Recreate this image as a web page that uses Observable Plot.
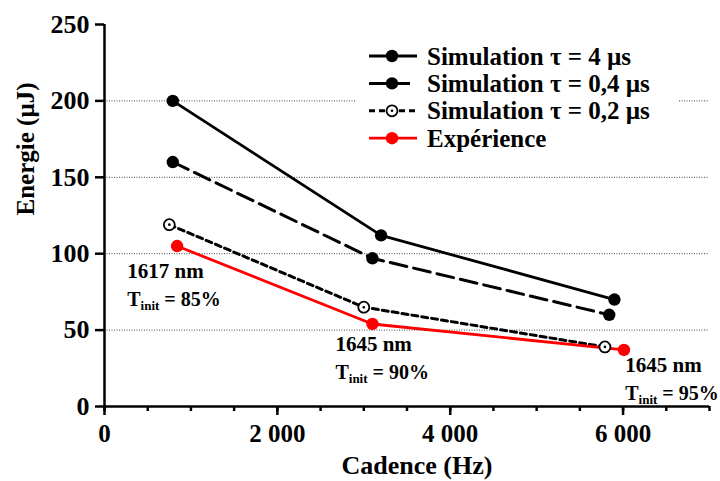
<!DOCTYPE html>
<html><head><meta charset="utf-8">
<script src="https://cdn.jsdelivr.net/npm/d3@7"></script>
<script src="https://cdn.jsdelivr.net/npm/@observablehq/plot@0.6"></script>
<style>html,body{margin:0;padding:0;background:#fff} svg{display:block}</style>
</head><body><div id="chart"></div>
<script>
// ---- data ----
const seriesNames = ["Simulation τ = 4 µs", "Simulation τ = 0,4 µs", "Simulation τ = 0,2 µs", "Expérience"];
const sim4X  = [790, 3200, 5900];
const sim4Y  = [200, 112, 70];
const sim04X = [790, 3100, 5840];
const sim04Y = [160, 97, 60];
const sim02X = [750, 3000, 5790];
const sim02Y = [119, 65, 39];
const expX   = [840, 3100, 6010];
const expY   = [105, 54, 37];

const annWave  = ["1617 nm", "1645 nm", "1645 nm"];
const annTinit = ["85%", "90%", "95%"];
const annX = [263, 2672, 6025];
const annY = [84, 36, 22.5];

const xTicksMajor = [0, 2000, 4000, 6000];
const xTickLabels = ["0", "2 000", "4 000", "6 000"];
const xTicksMinor = [0, 500, 1000, 1500, 2000, 2500, 3000, 3500, 4000, 4500, 5000, 5500, 6000, 6500, 7000];
const yTicks = [0, 50, 100, 150, 200, 250];
const gridY = [50, 100, 150, 200];

// ---- styles ----
const styles = [
  {stroke: "#000", dash: null,   width: 2.8, fill: "#000", open: false},
  {stroke: "#000", dash: "17,7", width: 3,   fill: "#000", open: false},
  {stroke: "#000", dash: "6,4",  width: 3,   fill: "#fff", open: true},
  {stroke: "#ff0000", dash: null, width: 2.8, fill: "#ff0000", open: false}
];

const xs = [sim4X, sim04X, sim02X, expX];
const ys = [sim4Y, sim04Y, sim02Y, expY];
const series = seriesNames.map((name, s) => xs[s].map((x, i) => ({name, x, y: ys[s][i]})));
const ann = annWave.map((w, i) => ({w, t: annTinit[i], x: annX[i], y: annY[i]}));

const font = "'Liberation Serif', 'Times New Roman', serif";
const marks = [
  Plot.ruleY(gridY, {stroke: "#444", strokeWidth: 1, strokeDasharray: "1,1.5"}),
  Plot.ruleX([0], {y1: 0, y2: 250, strokeWidth: 2.5}),
  Plot.ruleY([0], {x1: 0, x2: 7000, strokeWidth: 2.5}),
  Plot.axisY({ticks: yTicks, tickSize: 9, tickPadding: 6, fontSize: 26, strokeWidth: 2.5, label: null, tickFormat: d => String(d)}),
  Plot.axisX({ticks: xTicksMinor, tickSize: 5, tickFormat: () => "", strokeWidth: 2.5, label: null}),
  Plot.axisX({ticks: xTicksMajor, tickSize: 9, tickPadding: 9, fontSize: 25, strokeWidth: 2.5, label: null,
              tickFormat: d => xTickLabels[xTicksMajor.indexOf(d)]}),
  Plot.text(["Energie (µJ)"], {frameAnchor: "left", dx: -79, rotate: -90, fontSize: 25, fontWeight: "bold"}),
  Plot.text(["Cadence (Hz)"], {frameAnchor: "bottom", dx: 10, dy: 67, lineAnchor: "bottom", fontSize: 26, fontWeight: "bold"}),
];
series.forEach((data, s) => {
  const st = styles[s];
  marks.push(Plot.line(data, {x: "x", y: "y", stroke: st.stroke, strokeWidth: st.width, strokeDasharray: st.dash}));
});
series.forEach((data, s) => {
  const st = styles[s];
  if (st.open) {
    marks.push(Plot.dot(data, {x: "x", y: "y", r: 5.5, fill: "#fff", stroke: "#000", strokeWidth: 1.8}));
    marks.push(Plot.dot(data, {x: "x", y: "y", r: 1.3, fill: "#000"}));
  } else {
    marks.push(Plot.dot(data, {x: "x", y: "y", r: 6.2, fill: st.fill}));
  }
});
marks.push(Plot.text(ann, {x: "x", y: "y", text: "w", textAnchor: "start", lineAnchor: "bottom", fontSize: 21, fontWeight: "bold"}));
marks.push(Plot.text(ann, {x: "x", y: "y", text: d => "T init = " + d.t, dy: 27.6, textAnchor: "start", lineAnchor: "bottom", fontSize: 20, fontWeight: "bold"}));

const chart = Plot.plot({
  width: 720, height: 481,
  marginLeft: 104, marginRight: 11, marginTop: 24, marginBottom: 75,
  x: {domain: [0, 7000]},
  y: {domain: [0, 250]},
  style: {fontFamily: font, fontWeight: "bold", fontSize: "25px", background: "#fff", color: "#000", overflow: "visible"},
  marks
});
document.getElementById("chart").append(chart);

const svg = d3.select(chart);
// subscripts
svg.selectAll("text").filter(function() { return this.textContent.startsWith("T init = "); }).each(function() {
  const t = d3.select(this);
  const rest = this.textContent.slice("T init".length);
  t.text(null);
  t.append("tspan").text("T");
  t.append("tspan").attr("font-size", 13).attr("dy", 4).text("init");
  t.append("tspan").attr("dy", -4).text(rest);
});

// legend
const lg = svg.append("g").attr("font-family", font).attr("font-weight", "bold").attr("font-size", 25).attr("text-anchor", "start");
lg.append("rect").attr("x", 355).attr("y", 36).attr("width", 323).attr("height", 122).attr("fill", "#fff");
seriesNames.forEach((name, s) => {
  const st = styles[s];
  const y = 56 + s * 27.4;
  lg.append("line").attr("x1", 369).attr("x2", 417).attr("y1", y).attr("y2", y)
    .attr("stroke", st.stroke).attr("stroke-width", st.width).attr("stroke-dasharray", st.dash);
  if (st.open) {
    lg.append("circle").attr("cx", 392).attr("cy", y).attr("r", 5.5).attr("fill", "#fff").attr("stroke", "#000").attr("stroke-width", 1.8);
    lg.append("circle").attr("cx", 392).attr("cy", y).attr("r", 1.3).attr("fill", "#000");
  } else {
    lg.append("circle").attr("cx", 392).attr("cy", y).attr("r", 6.2).attr("fill", st.fill);
  }
  lg.append("text").attr("x", 427).attr("y", y).attr("dy", "0.34em").attr("fill", "#000").text(name);
});
</script>
</body></html>
